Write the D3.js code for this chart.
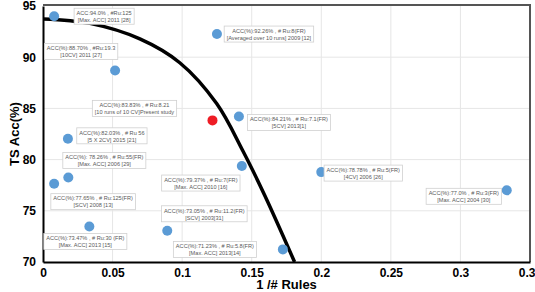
<!DOCTYPE html>
<html><head><meta charset="utf-8">
<script src="https://cdn.jsdelivr.net/npm/d3@7"></script>
<style>
html,body{margin:0;padding:0;background:#fff;overflow:hidden}
svg{display:block}
</style></head>
<body>
<svg id="chart" width="535" height="292"></svg>
<script>
// ---- data ----
const invRules = [0.008, 0.125, 0.0518, 0.1218, 0.1408, 0.0179, 0.0182, 0.008, 0.1429, 0.2, 0.3333, 0.0333, 0.0893, 0.1724];
const tsAcc    = [94.0, 92.26, 88.70, 83.83, 84.21, 82.03, 78.26, 77.65, 79.37, 78.78, 77.0, 73.47, 73.05, 71.23];
const isPresent= [false,false,false,true,false,false,false,false,false,false,false,false,false,false];
const labelLine1 = [
  "ACC:94.0% , #Ru:125",
  "ACC(%):92.26% , # Ru:8(FR)",
  "ACC(%):88.70% , #Ru:19.3",
  "ACC(%):83.83% , # Ru:8.21",
  "ACC(%):84.21% , # Ru:7.1(FR)",
  "ACC(%):82.03% , # Ru 56",
  "ACC(%): 78.26% , # Ru:55(FR)",
  "ACC(%):77.65% , # Ru:125(FR)",
  "ACC(%):79.37% , # Ru:7(FR)",
  "ACC(%):78.78% , # Ru:5(FR)",
  "ACC(%):77.0% , # Ru:3(FR)",
  "ACC(%):73.47% , # Ru:30 (FR)",
  "ACC(%):73.05% , # Ru:11.2(FR)",
  "ACC(%):71.23% , # Ru:5.8(FR)"
];
const labelLine2 = [
  "[Max. ACC]  2011 [28]",
  "[Averaged over 10 runs] 2009 [12]",
  "[10CV] 2011 [27]",
  "[10 runs of 10 CV]Present study",
  "[5CV] 2013[1]",
  "[5 X 2CV] 2015 [21]",
  "[Max. ACC] 2006 [29]",
  "[SCV] 2008 [13]",
  "[Max. ACC] 2010 [16]",
  "[4CV] 2006 [26]",
  "[Max. ACC] 2004 [30]",
  "[Max. ACC] 2013 [15]",
  "[SCV] 2003[31]",
  "[Max. ACC] 2013[14]"
];
// trend curve
const curveX = [0, 0.0337, 0.0696, 0.0983, 0.1248, 0.1435, 0.1593, 0.1808];
const curveY = [93.74, 93.30, 91.79, 89.46, 85.47, 80.89, 76.52, 70.0];
const xTicks = [0, 0.05, 0.1, 0.15, 0.2, 0.25, 0.3, 0.35];
const xTickLabels = ["0", "0.05", "0.1", "0.15", "0.2", "0.25", "0.3", "0.35"];
const yTicks = [70, 75, 80, 85, 90, 95];
const xTitle = "1 /# Rules";
const yTitle = "TS Acc(%)";

// ---- layout (label box offsets from point, px) ----
const labelDx = [50, 52, -34, -78, 50, 44, 36, 39, -41, 42, -43, -4, 37, -68];
const labelDy = [0, 0, -19, -12, 6, -3, -17, 18, 17, 1, 6, 15, -17, 0];

const svg = d3.select("#chart");
const m = {l:43, r:530, t:6, b:262};
const x = d3.scaleLinear().domain([0, 0.35]).range([m.l, m.r]);
const y = d3.scaleLinear().domain([70, 95]).range([m.b, m.t]);

// gridlines
svg.append("g").selectAll("line").data(xTicks.slice(1, -1)).join("line")
  .attr("x1", d => x(d)).attr("x2", d => x(d)).attr("y1", m.t).attr("y2", m.b)
  .attr("stroke", "#e6e6e6").attr("stroke-width", 1);
svg.append("g").selectAll("line").data(yTicks.slice(1, -1)).join("line")
  .attr("y1", d => y(d)).attr("y2", d => y(d)).attr("x1", m.l).attr("x2", m.r)
  .attr("stroke", "#e6e6e6").attr("stroke-width", 1);

// border top/right
svg.append("path").attr("d", `M${m.l},${m.t - 1}H${m.r}V${m.b}`)
  .attr("fill", "none").attr("stroke", "#555").attr("stroke-width", 2);

const font = "Liberation Sans, Arial, sans-serif";
// axes
const xAxis = d3.axisBottom(x).tickValues(xTicks).tickFormat((d, i) => xTickLabels[i]).tickSize(0).tickPadding(6);
const gx = svg.append("g").attr("transform", `translate(0,${m.b})`).call(xAxis);
gx.select(".domain").attr("stroke", "#000").attr("stroke-width", 2);
gx.selectAll("text").attr("font-family", font).attr("font-weight", "bold").attr("font-size", 12).attr("fill", "#000");

const yAxis = d3.axisLeft(y).tickValues(yTicks).tickFormat(d3.format("d")).tickSize(0).tickPadding(7);
const gy = svg.append("g").attr("transform", `translate(${m.l},0)`).call(yAxis);
gy.select(".domain").attr("stroke", "#000").attr("stroke-width", 2);
gy.selectAll("text").attr("font-family", font).attr("font-weight", "bold").attr("font-size", 12).attr("fill", "#000");

// axis titles
svg.append("text").attr("x", (m.l + m.r) / 2).attr("y", 289).attr("text-anchor", "middle")
  .attr("font-family", font).attr("font-weight", "bold").attr("font-size", 13)
  .text(xTitle);
svg.append("text").attr("transform", `translate(19,${(m.t + m.b) / 2}) rotate(-90)`).attr("text-anchor", "middle")
  .attr("font-family", font).attr("font-weight", "bold").attr("font-size", 13)
  .text(yTitle);

// clip
svg.append("clipPath").attr("id", "clip").append("rect")
  .attr("x", m.l).attr("y", m.t).attr("width", m.r - m.l).attr("height", m.b - m.t);

// curve
const curveData = curveX.map((d, i) => [d, curveY[i]]);
svg.append("path").datum(curveData)
  .attr("clip-path", "url(#clip)")
  .attr("d", d3.line().x(d => x(d[0])).y(d => y(d[1])).curve(d3.curveCatmullRom.alpha(0.5)))
  .attr("fill", "none").attr("stroke", "#000").attr("stroke-width", 3.5);

// points
const pts = invRules.map((d, i) => ({x: d, y: tsAcc[i], red: isPresent[i], l1: labelLine1[i], l2: labelLine2[i], dx: labelDx[i], dy: labelDy[i]}));
svg.append("g").selectAll("circle").data(pts).join("circle")
  .attr("cx", d => x(d.x)).attr("cy", d => y(d.y)).attr("r", 5)
  .attr("fill", d => d.red ? "#ee1c25" : "#5b9bd5");

// labels
const lg = svg.append("g").attr("font-family", font).attr("font-size", 5.6).attr("fill", "#595959");
pts.forEach(d => {
  const cx = x(d.x) + d.dx, cy = y(d.y) + d.dy;
  const g = lg.append("g");
  const rect = g.append("rect");
  const t1 = g.append("text").attr("x", cx).attr("y", cy - 1.2).attr("text-anchor", "middle").text(d.l1);
  const t2 = g.append("text").attr("x", cx).attr("y", cy + 5.8).attr("text-anchor", "middle").text(d.l2);
  const w = Math.max(t1.node().getComputedTextLength(), t2.node().getComputedTextLength()) + 5;
  rect.attr("x", cx - w / 2).attr("y", cy - 8).attr("width", w).attr("height", 16)
    .attr("fill", "#fff").attr("stroke", "#d0d0d0").attr("stroke-width", 0.8);
});
</script>
</body></html>
